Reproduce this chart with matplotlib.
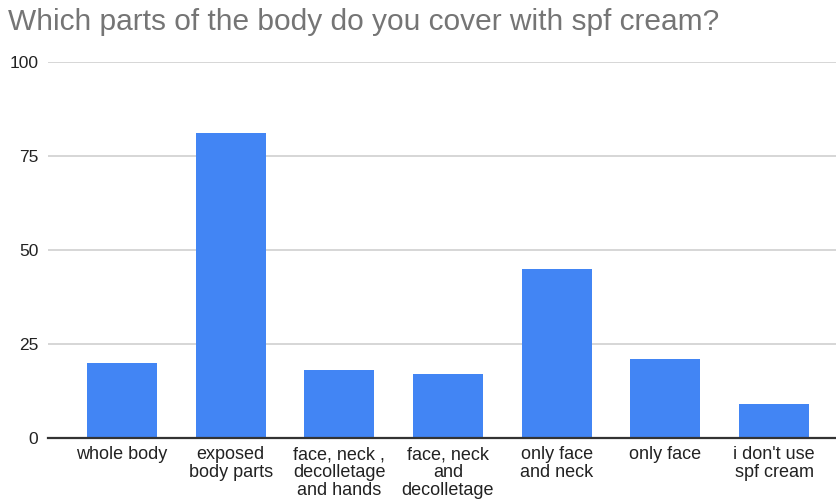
import numpy as np
import matplotlib.pyplot as plt

# ── Dados ──────────────────────────────────────────────────────────────
categorias = ["whole body", "exposed\nbody parts", "face, neck ,\ndecolletage\nand hands",
              "face, neck\nand\ndecolletage", "only face\nand neck", "only face",
              "i don't use\nspf cream"]
valores = [20, 81, 18, 17, 45, 21, 9]
y_ticks = [0, 25, 50, 75, 100]

plt.rcParams["font.family"] = ["Liberation Sans", "DejaVu Sans"]

fig = plt.figure(figsize=(8.36, 5.01), dpi=100)
ax = fig.add_axes([0.0574, 0.1263, 0.9426, 0.7497])

x = np.arange(len(categorias))
ax.bar(x, valores, width=0.645, color="#4285f4", zorder=3)

ax.set_xlim(-0.68, 6.57)
ax.set_ylim(0, 100)
ax.set_yticks(y_ticks)
ax.set_yticklabels([str(v) for v in y_ticks], fontsize=12.5, color="#222222")
ax.set_xticks(x)
ax.set_xticklabels(categorias, fontsize=13, color="#222222", linespacing=1.08)
ax.tick_params(axis="both", length=0)
ax.tick_params(axis="y", pad=7)
ax.tick_params(axis="x", pad=6)

ax.yaxis.grid(True, color="#cccccc", linewidth=1.1, zorder=1)
ax.set_axisbelow(True)
for s in ["top", "right", "left"]:
    ax.spines[s].set_visible(False)
ax.spines["bottom"].set_color("#333333")
ax.spines["bottom"].set_linewidth(1.6)
ax.spines["bottom"].set_zorder(4)

fig.text(0.009, 0.956, "Which parts of the body do you cover with spf cream?",
         fontsize=21.5, color="#757575", va="center", ha="left")

fig.savefig("out.png", dpi=100, facecolor="white")
